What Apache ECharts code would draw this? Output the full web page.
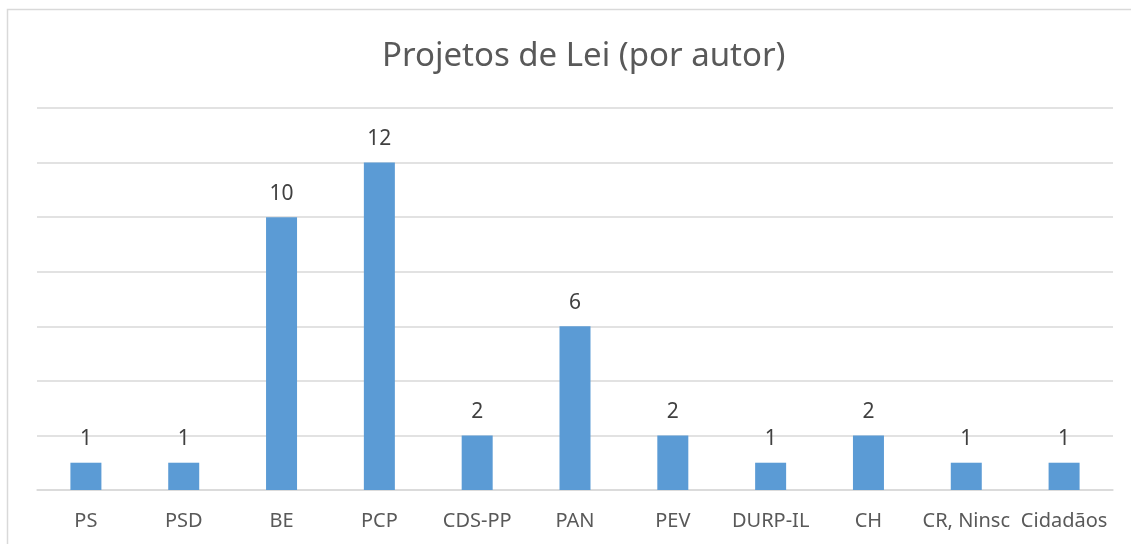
<!DOCTYPE html>
<html>
<head>
<meta charset="utf-8">
<script src="https://cdn.jsdelivr.net/npm/echarts@6/dist/echarts.min.js"></script>
<style>
  html, body { margin: 0; padding: 0; background: #fff; }
  #chart { width: 1131px; height: 544px; }
</style>
</head>
<body>
<div id="chart"></div>
<script>
var categories = ['PS', 'PSD', 'BE', 'PCP', 'CDS-PP', 'PAN', 'PEV', 'DURP-IL', 'CH', 'CR, Ninsc', 'Cidadãos'];
var projetos = [1, 1, 10, 12, 2, 6, 2, 1, 2, 1, 1];

var myChart = echarts.init(document.getElementById('chart'));
var fonte = '"Noto Sans", sans-serif';

option = {
    backgroundColor: '#fff',
    animation: false,
    // moldura cinzenta em volta do gráfico
    graphic: [{
        type: 'rect',
        shape: { x: 7.5, y: 9.5, width: 1140, height: 560 },
        style: { fill: 'none', stroke: '#d9d9d9', lineWidth: 1.5 },
        silent: true
    }],
    title: {
        text: 'Projetos de Lei (por autor)',
        left: 377,
        top: 35,
        textStyle: {
            color: '#595959',
            fontSize: 33,
            fontWeight: 'normal',
            fontFamily: fonte
        }
    },
    grid: {
        left: 37,
        right: 18,
        top: 108,
        bottom: 54
    },
    xAxis: {
        type: 'category',
        data: categories,
        axisLine: { lineStyle: { color: '#d9d9d9', width: 1.5 } },
        axisTick: { length: 7, lineStyle: { color: '#d9d9d9', width: 1.5 } },
        axisLabel: {
            color: '#595959',
            fontSize: 20,
            fontFamily: fonte,
            margin: 21,
            interval: 0
        }
    },
    yAxis: {
        type: 'value',
        min: 0,
        max: 14,
        interval: 2,
        axisLabel: { show: false },
        axisLine: { show: false },
        axisTick: { show: false },
        splitLine: { lineStyle: { color: '#d9d9d9', width: 1.5 } }
    },
    series: [{
        type: 'bar',
        data: projetos,
        barWidth: 31,
        itemStyle: { color: '#5b9bd5' },
        label: {
            show: true,
            position: 'top',
            distance: 13,
            color: '#404040',
            fontSize: 21,
            fontFamily: fonte
        }
    }]
};

myChart.setOption(option, true);
</script>
</body>
</html>
